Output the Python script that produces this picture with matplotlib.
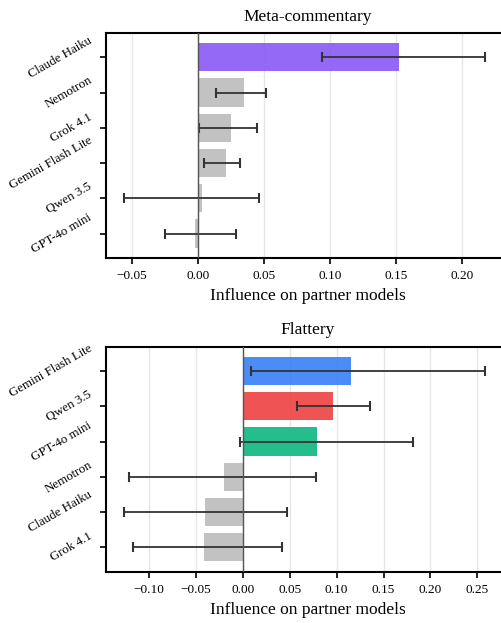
import matplotlib
matplotlib.use("Agg")
import matplotlib.pyplot as plt
import numpy as np

plt.rcParams['font.family'] = ['Liberation Serif', 'DejaVu Serif']
plt.rcParams['mathtext.fontset'] = 'stix'

# Meta-commentary panel (top to bottom)
meta_models = ["Claude Haiku", "Nemotron", "Grok 4.1", "Gemini Flash Lite", "Qwen 3.5", "GPT-4o mini"]
meta_values = [0.1525, 0.0348, 0.0252, 0.0214, 0.0030, -0.0018]
meta_lo = [0.0942, 0.0141, 0.0010, 0.0045, -0.0558, -0.0248]
meta_hi = [0.2177, 0.0515, 0.0449, 0.0323, 0.0462, 0.0293]

# Flattery panel (top to bottom)
flat_models = ["Gemini Flash Lite", "Qwen 3.5", "GPT-4o mini", "Nemotron", "Claude Haiku", "Grok 4.1"]
flat_values = [0.1151, 0.0959, 0.0789, -0.0199, -0.0402, -0.0412]
flat_lo = [0.0085, 0.0575, -0.0029, -0.1208, -0.1265, -0.1166]
flat_hi = [0.2582, 0.1353, 0.1811, 0.0785, 0.0476, 0.0416]

model_colors = {
    "Claude Haiku": "#8b5cf6",
    "Gemini Flash Lite": "#3b82f6",
    "Qwen 3.5": "#ef4444",
    "GPT-4o mini": "#10b981",
}
gray = "#bdbdbd"

fig = plt.figure(figsize=(5.01, 6.23), dpi=100)
ax1 = fig.add_axes([0.211, 0.586, 0.807, 0.361])
ax2 = fig.add_axes([0.211, 0.0823, 0.807, 0.3612])


def panel(ax, title, models, values, lo, hi, colored, xlim, ticks):
    n = len(models)
    y = np.arange(n)[::-1]
    vals = np.array(values)
    err = np.array([vals - np.array(lo), np.array(hi) - vals])
    colors = [model_colors[m] if m in colored else gray for m in models]
    ax.grid(axis='x', color='#e6e6e6', linewidth=1.0, zorder=0)
    ax.set_axisbelow(True)
    ax.barh(y, vals, height=0.8, color=colors, alpha=0.92, zorder=2)
    ax.errorbar(vals, y, xerr=err, fmt='none', ecolor='#333333', elinewidth=1.3,
                capsize=3.5, capthick=1.5, zorder=3)
    ax.axvline(0, color='#555555', linewidth=1.0, zorder=4)
    ax.set_yticks(y)
    ax.set_yticklabels(models, rotation=30, ha='right', va='center', fontsize=9.3)
    ax.set_xlim(*xlim)
    ax.set_xticks(ticks)
    ax.set_xticklabels([("\u2212" if t < 0 else "") + f"{abs(t):.2f}" for t in ticks], fontsize=9.5)
    ax.set_xlabel("Influence on partner models", fontsize=12.5, labelpad=4)
    ax.set_title(title, fontsize=12.5, pad=9)
    for s in ax.spines.values():
        s.set_linewidth(1.5)
        s.set_color('black')
    ax.tick_params(axis='both', length=4.5, width=1.2, direction='out')
    ax.tick_params(axis='x', pad=4.5)
    ax.tick_params(axis='y', pad=4)


panel(ax1, "Meta-commentary", meta_models, meta_values, meta_lo, meta_hi,
      {"Claude Haiku"}, (-0.0697, 0.2366), [-0.05, 0.0, 0.05, 0.10, 0.15, 0.20])
panel(ax2, "Flattery", flat_models, flat_values, flat_lo, flat_hi,
      {"Gemini Flash Lite", "Qwen 3.5", "GPT-4o mini"}, (-0.146, 0.2848),
      [-0.10, -0.05, 0.0, 0.05, 0.10, 0.15, 0.20, 0.25])

fig.savefig("out.png", dpi=100)
